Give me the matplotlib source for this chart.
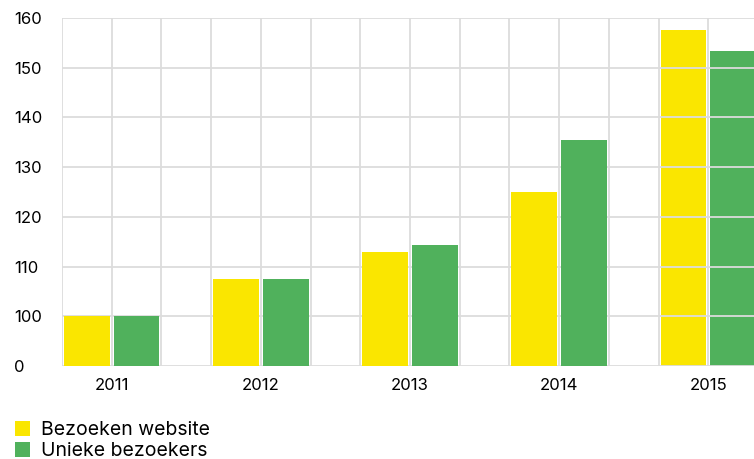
import matplotlib
matplotlib.use("Agg")
import matplotlib.pyplot as plt
from matplotlib.patches import Patch

years = ["2011", "2012", "2013", "2014", "2015"]
bezoeken = [100, 107.5, 112.9, 125.0, 157.6]
unieke = [100, 107.5, 114.3, 135.4, 153.4]
series_names = ["Bezoeken website", "Unieke bezoekers"]
ytick_values = [90, 100, 110, 120, 130, 140, 150, 160]
ytick_labels = ["0", "100", "110", "120", "130", "140", "150", "160"]

YELLOW = "#FAE600"
GREEN = "#50B15C"
GRID = "#DCDCDC"

plt.rcParams['font.family'] = ['Inter', 'DejaVu Sans']

W, H = 754, 459
fig = plt.figure(figsize=(W / 100, H / 100), dpi=100)
left_px, bottom_px, top_px = 62, 366, 18
ax = fig.add_axes([left_px / W, 1 - bottom_px / H, (W - left_px) / W, (bottom_px - top_px) / H])

slot = (bottom_px - top_px) / 7.0  # pixels per grid cell
xmax = (W - left_px) / slot

bw = 0.92
n = len(years)
for i in range(n):
    z = 1 if i == n - 1 else 3
    ax.bar(3 * i + 0.5, bezoeken[i] - 90, bottom=90, width=bw, color=YELLOW, zorder=z, linewidth=0)
    ax.bar(3 * i + 1.5, unieke[i] - 90, bottom=90, width=bw, color=GREEN, zorder=z, linewidth=0)

ax.set_xlim(0, xmax)
ax.set_ylim(90, 160)

# grid
for xv in range(0, int(xmax) + 1):
    ax.axvline(xv, color=GRID, lw=1.3, zorder=2)
for yv in ytick_values:
    ax.axhline(yv, color=GRID, lw=1.3, zorder=2)

ax.set_yticks(ytick_values)
ax.set_yticklabels(ytick_labels)
ax.set_xticks([3 * i + 1 for i in range(n)])
ax.set_xticklabels(years)
ax.tick_params(axis='both', length=0, labelsize=12, colors='black')
ax.tick_params(axis='y', pad=(left_px - 14) * 0.72)
ax.tick_params(axis='x', pad=9)
for lab in ax.get_yticklabels():
    lab.set_horizontalalignment('left')
for s in ax.spines.values():
    s.set_visible(False)

handles = [Patch(facecolor=YELLOW, edgecolor='none'), Patch(facecolor=GREEN, edgecolor='none')]
fig.legend(handles, series_names, loc='upper left', bbox_to_anchor=(15 / W, 1 - 421 / H),
           frameon=False, fontsize=14, handlelength=0.78, handleheight=0.78,
           handletextpad=0.55, labelspacing=0.15, borderaxespad=0, borderpad=0)

fig.savefig("out.png", dpi=100)
